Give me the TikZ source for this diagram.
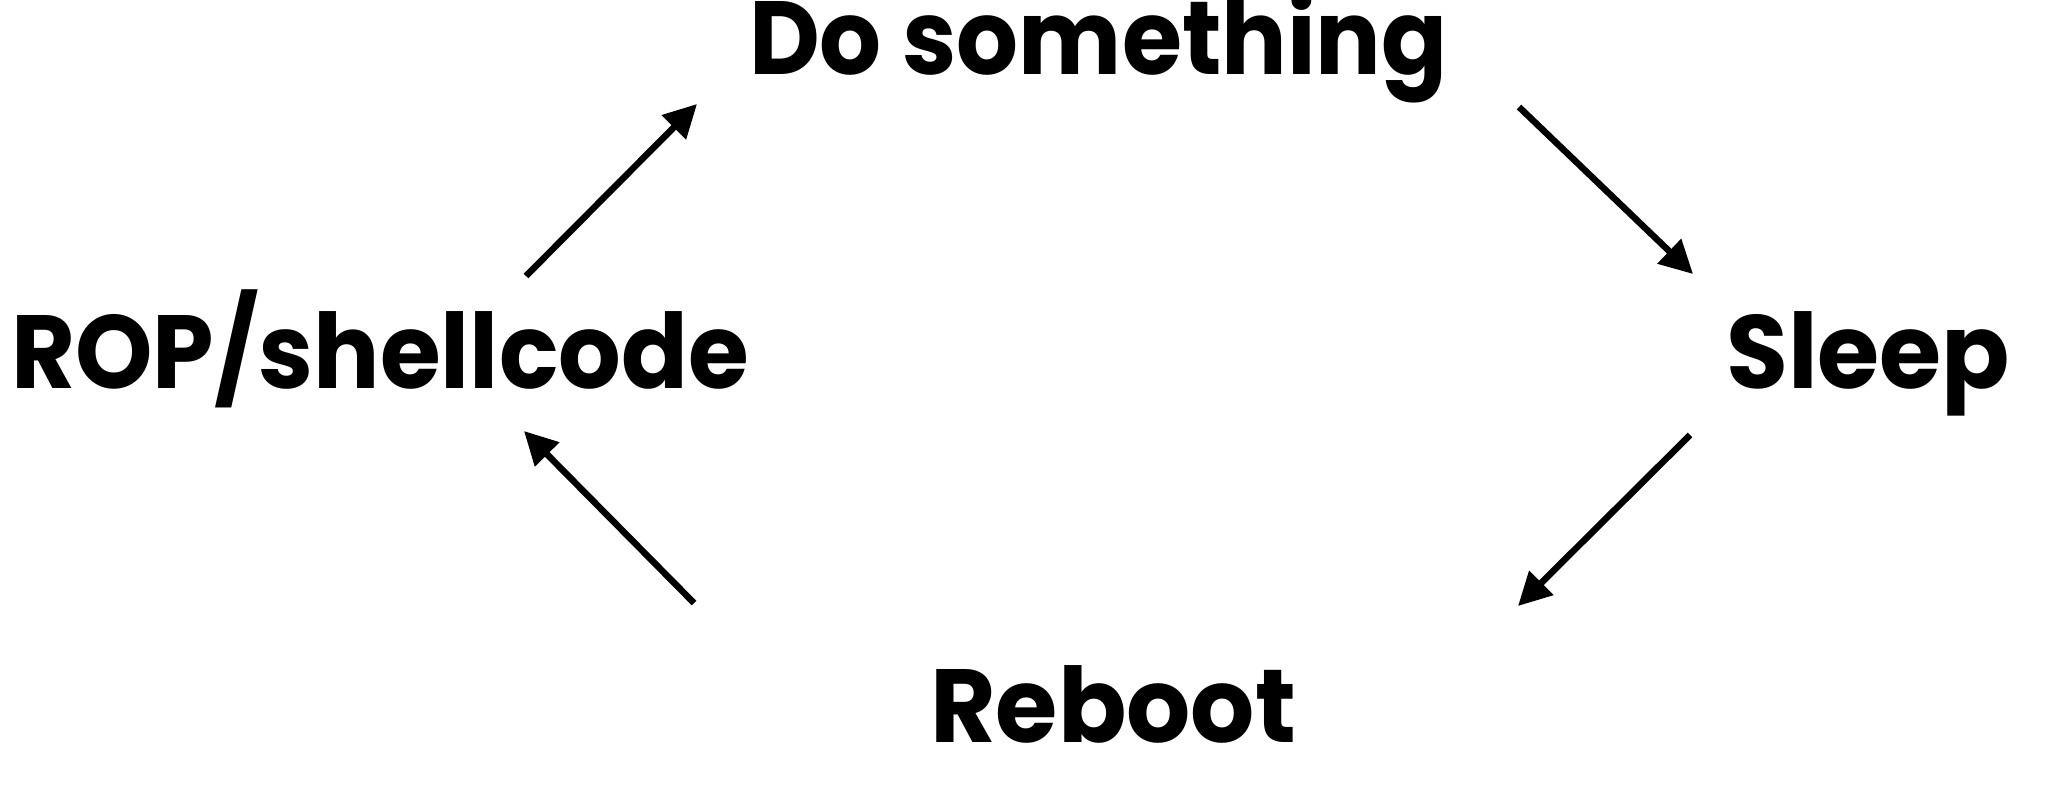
\documentclass[tikz,border=0pt]{standalone}
\usepackage{fontspec}
\setmainfont{Poppins}[BoldFont=* Bold]
\usetikzlibrary{arrows.meta}
\tikzset{
  label/.style={inner sep=0pt, anchor=base west, font=\fontsize{104}{110}\selectfont\bfseries},
  flow/.style={line width=6.5pt, -{Triangle[length=33pt,width=33pt]}}
}
\begin{document}
\begin{tikzpicture}[x=1pt,y=-1pt]
\useasboundingbox (0,0) rectangle (2048,788);
\node[label] (do) at (749,74) {\scalebox{0.936}[1]{Do something}};
\node[label] (rop) at (11,388) {\scalebox{0.947}[1]{ROP/shellcode}};
\node[label] (sleep) at (1726,388) {\scalebox{0.968}[1]{Sleep}};
\node[label] (reboot) at (930,742) {\scalebox{0.97}[1]{Reboot}};
\coordinate (a1s) at (526,276); \coordinate (a1e) at (697,104);
\coordinate (a2s) at (1519,107); \coordinate (a2e) at (1693,274);
\coordinate (a3s) at (1690,435); \coordinate (a3e) at (1518,606);
\coordinate (a4s) at (694,603); \coordinate (a4e) at (524,431);
\draw[flow] (a1s) -- (a1e);
\draw[flow] (a2s) -- (a2e);
\draw[flow] (a3s) -- (a3e);
\draw[flow] (a4s) -- (a4e);
\end{tikzpicture}
\end{document}
